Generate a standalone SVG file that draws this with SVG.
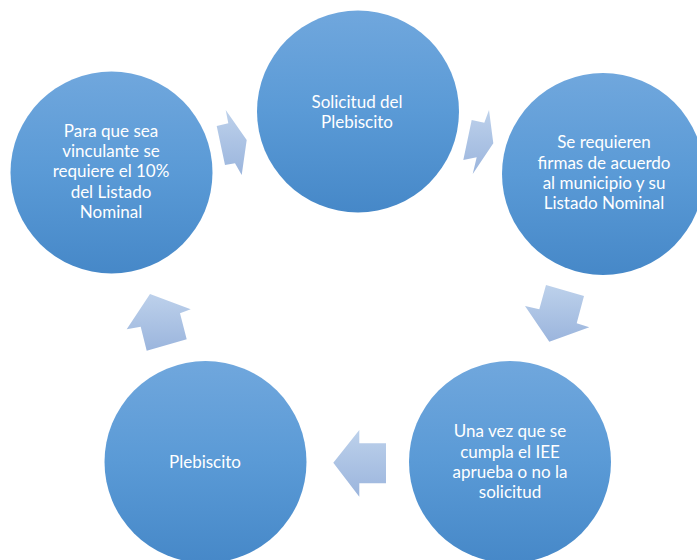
<svg xmlns="http://www.w3.org/2000/svg" width="697" height="560" viewBox="0 0 697 560">
<defs>
<linearGradient id="gc" x1="0" y1="0" x2="0" y2="1">
<stop offset="0" stop-color="#70a7dd"/>
<stop offset="0.5" stop-color="#5a9ad6"/>
<stop offset="1" stop-color="#4688c8"/>
</linearGradient>
<linearGradient id="ga" x1="0" y1="0" x2="0" y2="1">
<stop offset="0" stop-color="#bdd1eb"/>
<stop offset="1" stop-color="#9bb5dd"/>
</linearGradient>
<style>
.c{fill:url(#gc);}
.a{fill:url(#ga);}
text{font-family:Lato,"Open Sans","Liberation Sans",sans-serif;font-size:17px;fill:#ffffff;text-anchor:middle;}
</style>
</defs>
<rect width="697" height="560" fill="#ffffff"/>
<g id="connectors">
<polygon class="a" points="225.7,110 228.3,123.3 216.7,126 225,165 235,163.3 241.7,175 246.7,140"/>
<polygon class="a" points="489,110 484.3,122.7 471.7,120 463.3,160 476.7,157.3 472.7,174 493.3,143.3"/>
<polygon class="a" points="546,285 584,296 576.7,323.3 589.3,327.3 549.3,341.7 525,306 539.3,309.3"/>
<polygon class="a" points="333.3,462.7 359.3,430 359.3,443.3 386,443.3 386,483.3 359.3,483.3 359.3,496.7"/>
<polygon class="a" points="150,294 190.7,309.3 180,313.3 186.7,339.3 146.7,350.7 140.7,326.7 126.7,329.3"/>
</g>
<g id="n1">
<circle class="c" cx="358" cy="111.5" r="101"/>
<text x="357" y="107.5">Solicitud del</text>
<text x="357" y="128">Plebiscito</text>
</g>
<g id="n2">
<circle class="c" cx="603" cy="174" r="101"/>
<text x="604" y="148.3">Se requieren</text>
<text x="604" y="168.6">firmas de acuerdo</text>
<text x="604" y="188.9">al municipio y su</text>
<text x="604" y="209.2">Listado Nominal</text>
</g>
<g id="n3">
<circle class="c" cx="510" cy="462" r="101"/>
<text x="510" y="437.3">Una vez que se</text>
<text x="510" y="457.6">cumpla el IEE</text>
<text x="510" y="477.9">aprueba o no la</text>
<text x="510" y="498.2">solicitud</text>
</g>
<g id="n4">
<circle class="c" cx="205.5" cy="462" r="101"/>
<text x="205" y="468.3">Plebiscito</text>
</g>
<g id="n5">
<circle class="c" cx="111.5" cy="172.5" r="101"/>
<text x="111" y="136.7">Para que sea</text>
<text x="111" y="157">vinculante se</text>
<text x="111" y="177.3">requiere el 10%</text>
<text x="111" y="197.6">del Listado</text>
<text x="111" y="217.9">Nominal</text>
</g>
</svg>
